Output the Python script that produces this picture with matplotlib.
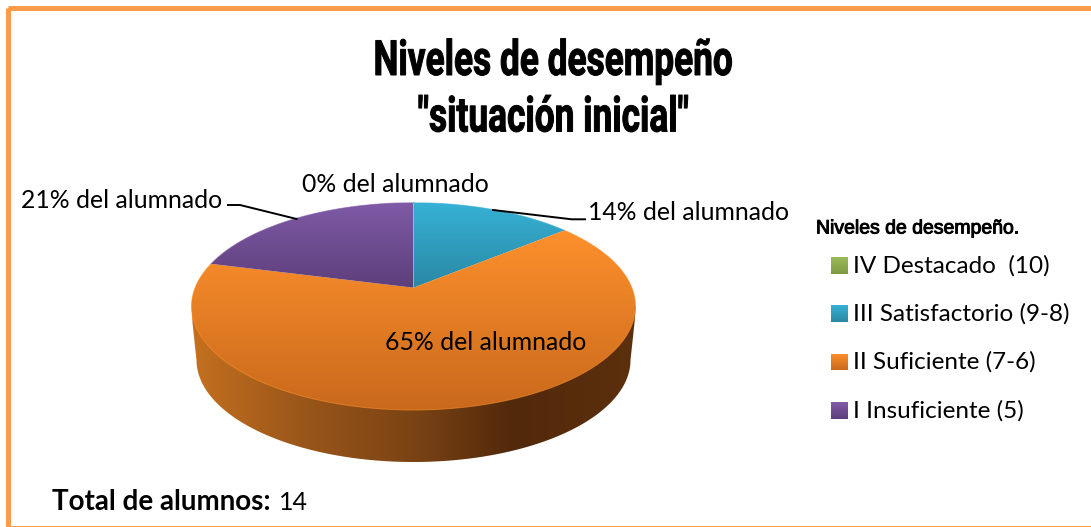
import numpy as np
import matplotlib
matplotlib.use("Agg")
import matplotlib.pyplot as plt
import matplotlib.patheffects as pe
from matplotlib.colors import LinearSegmentedColormap
from matplotlib.patches import Polygon, Rectangle
from matplotlib.transforms import Affine2D

title_lines = ["Niveles de desempeño", '"situación inicial"']
legend_title = "Niveles de desempeño."
categories = ["IV Destacado  (10)", "III Satisfactorio (9-8)", "II Suficiente (7-6)", "I Insuficiente (5)"]
shares = [0, 14, 65, 21]
label_suffix = "% del alumnado"
total_label = "Total de alumnos:"
total_students = 14

# top / bottom shade of each slice
light = ["#9bbb59", "#36b1d5", "#fd902c", "#7f5aa6"]
dark = ["#7e9a42", "#2a88a4", "#c9691c", "#5d3f7b"]
side_stops = [(0.0, "#c4701f"), (0.25, "#9a561a"), (0.5, "#7a4314"), (0.72, "#52290b"), (1.0, "#5c300d")]

W, H = 1091, 527
BODY = "Lato"

fig = plt.figure(figsize=(W / 100, H / 100), dpi=100)
ax = fig.add_axes([0, 0, 1, 1])
ax.axis("off")


class Squeeze(pe.AbstractPathEffect):
    # narrows the glyphs around a pixel column, no condensed font is installed
    def __init__(self, cx, sx, stroke):
        super().__init__()
        self.cx, self.sx, self.stroke = cx, sx, stroke

    def draw_path(self, renderer, gc, tpath, affine, rgbFace):
        squeezed = affine + Affine2D().translate(-self.cx, 0).scale(self.sx, 1).translate(self.cx, 0)
        gc0 = renderer.new_gc()
        gc0.copy_properties(gc)
        gc0.set_linewidth(self.stroke)
        gc0.set_foreground("black")
        renderer.draw_path(gc0, tpath, squeezed, rgbFace)
        gc0.restore()


def project(theta, cx=413.5, cy=287.7, a=218.4, b=100.3, k=0.18):
    # theta measured clockwise from 12 o'clock, perspective view of the disc
    u, v = np.sin(theta), np.cos(theta)
    w = 1 + k * v
    return cx + a * u / w, cy - b * v / w


def shade(poly_xy, c0, c1, horizontal=False, cmap=None):
    poly = Polygon(poly_xy, closed=True, fc="none", ec="none", transform=ax.transData)
    ax.add_patch(poly)
    x0, y0 = poly_xy.min(axis=0)
    x1, y1 = poly_xy.max(axis=0)
    g = np.linspace(0, 1, 256)
    g = g[None, :] if horizontal else g[:, None]
    if cmap is None:
        cmap = LinearSegmentedColormap.from_list("c", [c0, c1])
    im = ax.imshow(g, cmap=cmap, extent=(x0, x1, y1, y0), aspect="auto", vmin=0, vmax=1, zorder=2)
    im.set_clip_path(poly)


# side wall
t = np.linspace(0, np.pi, 200)
xb = 413.5 - 217 * np.cos(t)
yb = 360 + 102 * np.sin(t)
wall = np.vstack([[[191.7, 306.5], [192.5, 323]], np.column_stack([xb, yb]), [[634.5, 323], [635.7, 306.5]]])
shade(wall, None, None, horizontal=True, cmap=LinearSegmentedColormap.from_list("side", side_stops))

# top face, slices go clockwise from 12 o'clock
start = 0.0
total = sum(shares)
for share, c0, c1 in zip(shares, light, dark):
    stop = start + 2 * np.pi * share / total
    if share > 0:
        th = np.linspace(start, stop, 200)
        px, py = project(th)
        xy = np.column_stack([np.r_[413.5, px], np.r_[287.7, py]])
        shade(xy, c0, c1)
        ax.plot(px, py, color=c0, lw=0.7, alpha=0.6, zorder=3)
    start = stop

# leader lines
ax.plot([228, 240, 296.7], [205, 205, 219], color="black", lw=1.4, zorder=4)
ax.plot([493, 571.7, 585], [210, 219.3, 219.3], color="black", lw=1.4, zorder=4)

label_pos = [(395.5, 184), (689, 213), (485.5, 343), (122, 200)]
for share, (lx, ly) in zip(shares, label_pos):
    ax.text(lx, ly, f"{share}{label_suffix}", ha="center", va="center", fontsize=17.8,
            family=BODY, color="black", zorder=5)

# title
for line, y in zip(title_lines, [75, 131.5]):
    ax.text(553.5, y, line, ha="center", va="baseline", fontsize=35, fontweight="bold",
            family="Roboto", color="black", zorder=5,
            path_effects=[Squeeze(553.5, 0.725, 0.7)])

# legend
ax.text(816, 229, legend_title, ha="left", va="center", fontsize=14,
        family="Liberation Sans", zorder=5,
        path_effects=[pe.withStroke(linewidth=0.7, foreground="black")])
leg_y = [265.5, 313.5, 362, 410.5]
for name, y, c0, c1 in zip(categories, leg_y, light, dark):
    sq = np.array([[831, y - 8.5], [848, y - 8.5], [848, y + 8.5], [831, y + 8.5]])
    shade(sq, c0, c1)
    ax.text(853, y, name, ha="left", va="center", fontsize=17.5, family=BODY, zorder=5)

# total
ax.text(52, 502, total_label, ha="left", va="center", fontsize=20, fontweight="bold", family=BODY)
ax.text(279, 502, str(total_students), ha="left", va="center", fontsize=18, family=BODY)

# frame
ax.add_patch(Rectangle((8, 7.5), W + 10, H - 6.5, fc="none", ec="#fb9b4c", lw=3.6, zorder=6, clip_on=False))

ax.set_xlim(0, W)
ax.set_ylim(H, 0)
fig.savefig("out.png", dpi=100, facecolor="white")
